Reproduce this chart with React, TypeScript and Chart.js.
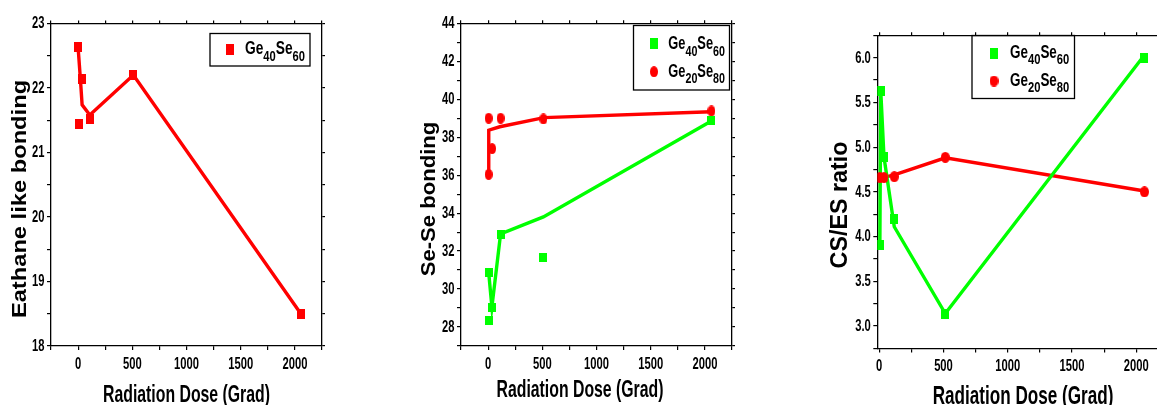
import React, { useEffect, useRef } from 'react';
import { Chart, registerables } from 'chart.js';
Chart.register(...registerables);

const W = 1200;
const H = 405;
const RED = '#ff0000';
const GREEN = '#00ff00';
const FONT = '"Liberation Sans", Arial, sans-serif';

// ---------- Panel 1 : Eathane like bonding ----------
const P1_DOSE = [0, 5, 35, 110, 510, 2055];
const P1_GE40 = [22.63, 21.44, 22.14, 21.52, 22.2, 18.5];
const P1_FIT_DOSE = [0, 12, 22, 37, 108, 510, 2055];
const P1_FIT_GE40 = [22.63, 22.35, 22.12, 21.74, 21.58, 22.2, 18.5];
const P1_X_TICKS = [-250, 0, 250, 500, 750, 1000, 1250, 1500, 1750, 2000, 2250];
const P1_X_LABELS = ['0', '500', '1000', '1500', '2000'];
const P1_Y_TICKS = [18, 18.5, 19, 19.5, 20, 20.5, 21, 21.5, 22, 22.5, 23];
const P1_Y_LABELS = ['18', '19', '20', '21', '22', '23'];

// ---------- Panel 2 : Se-Se bonding ----------
const P2_GE40_DOSE = [5, 5, 35, 115, 510, 2060];
const P2_GE40 = [30.86, 28.33, 29.05, 32.9, 31.67, 38.87];
const P2_GE40_FIT_DOSE = [5, 35, 115, 510, 2060];
const P2_GE40_FIT = [30.9, 29.05, 32.9, 33.8, 38.85];
const P2_GE20_DOSE = [5, 5, 37, 115, 510, 2060];
const P2_GE20 = [39.0, 36.04, 37.4, 39.0, 38.96, 39.38];
const P2_GE20_FIT_DOSE = [5, 6, 108, 515, 2058];
const P2_GE20_FIT = [36.04, 38.37, 38.55, 39.03, 39.34];
const P2_X_TICKS = [-250, 0, 250, 500, 750, 1000, 1250, 1500, 1750, 2000, 2250];
const P2_X_LABELS = ['0', '500', '1000', '1500', '2000'];
const P2_Y_TICKS = [27, 28, 29, 30, 31, 32, 33, 34, 35, 36, 37, 38, 39, 40, 41, 42, 43, 44];
const P2_Y_LABELS = ['28', '30', '32', '34', '36', '38', '40', '42', '44'];

// ---------- Panel 3 : CS/ES ratio ----------
const P3_GE40_DOSE = [5, 12, 37, 117, 514, 2064];
const P3_GE40 = [3.91, 5.63, 4.89, 4.2, 3.14, 6.0];
const P3_GE40_FIT_DOSE = [5, 12, 37, 117, 514, 2064];
const P3_GE40_FIT = [3.91, 5.63, 4.89, 4.11, 3.14, 6.03];
const P3_GE20_DOSE = [5, 37, 117, 514, 2064];
const P3_GE20 = [4.66, 4.66, 4.67, 4.886, 4.5];
const P3_GE20_FIT_DOSE = [5, 117, 514, 2064];
const P3_GE20_FIT = [4.65, 4.69, 4.88, 4.51];
const P3_X_TICKS = [0, 250, 500, 750, 1000, 1250, 1500, 1750, 2000, 2250];
const P3_X_LABELS = ['0', '500', '1000', '1500', '2000'];
const P3_Y_TICKS = [2.75, 3, 3.25, 3.5, 3.75, 4, 4.25, 4.5, 4.75, 5, 5.25, 5.5, 5.75, 6, 6.25];
const P3_Y_LABELS = ['3.0', '3.5', '4.0', '4.5', '5.0', '5.5', '6.0'];

const GE40_PARTS: [string, boolean][] = [['Ge', false], ['40', true], ['Se', false], ['60', true]];
const GE20_PARTS: [string, boolean][] = [['Ge', false], ['20', true], ['Se', false], ['80', true]];

function makeMarker(kind: 'rect' | 'ellipse', color: string, w: number, h: number) {
  const c = document.createElement('canvas');
  c.width = w;
  c.height = h;
  const g = c.getContext('2d')!;
  g.fillStyle = color;
  if (kind === 'rect') g.fillRect(0, 0, w, h);
  else {
    g.beginPath();
    g.ellipse(w / 2, h / 2, w / 2, h / 2, 0, 0, Math.PI * 2);
    g.fill();
  }
  return c;
}

function zip(xs: number[], ys: number[]) {
  return xs.map((x, i) => ({ x, y: ys[i] }));
}

function drawH(ctx: CanvasRenderingContext2D, text: string, x: number, y: number, F: number, sx: number, align: CanvasTextAlign, baseline: CanvasTextBaseline) {
  ctx.save();
  ctx.font = `bold ${F}px ${FONT}`;
  ctx.textAlign = align;
  ctx.textBaseline = baseline;
  ctx.fillStyle = '#000';
  ctx.translate(x, y);
  ctx.scale(sx, 1);
  ctx.fillText(text, 0, 0);
  ctx.restore();
}

function drawHFit(ctx: CanvasRenderingContext2D, text: string, cx: number, baseline: number, F: number, width: number) {
  ctx.save();
  ctx.font = `bold ${F}px ${FONT}`;
  const nat = ctx.measureText(text).width;
  ctx.restore();
  drawH(ctx, text, cx, baseline, F, width / nat, 'center', 'alphabetic');
}

function drawV(ctx: CanvasRenderingContext2D, text: string, x: number, cy: number, F: number, sx: number) {
  ctx.save();
  ctx.font = `bold ${F}px ${FONT}`;
  ctx.textAlign = 'center';
  ctx.textBaseline = 'alphabetic';
  ctx.fillStyle = '#000';
  ctx.translate(x, cy);
  ctx.scale(sx, 1);
  ctx.rotate(-Math.PI / 2);
  ctx.fillText(text, 0, 0);
  ctx.restore();
}

function drawRich(ctx: CanvasRenderingContext2D, parts: [string, boolean][], x: number, baseline: number, F: number, subF: number, drop: number, width: number) {
  ctx.save();
  const widths = parts.map(([t, sub]) => {
    ctx.font = `bold ${sub ? subF : F}px ${FONT}`;
    return ctx.measureText(t).width;
  });
  const total = widths.reduce((a, b) => a + b, 0);
  ctx.translate(x, baseline);
  ctx.scale(width / total, 1);
  ctx.fillStyle = '#000';
  ctx.textBaseline = 'alphabetic';
  ctx.textAlign = 'left';
  let cx = 0;
  parts.forEach(([t, sub], i) => {
    ctx.font = `bold ${sub ? subF : F}px ${FONT}`;
    ctx.fillText(t, cx, sub ? drop : 0);
    cx += widths[i];
  });
  ctx.restore();
}

interface LegendRow { marker: HTMLCanvasElement; mx: number; my: number; parts: [string, boolean][]; tx: number; tb: number; }
interface PanelCfg {
  area: { left: number; right: number; top: number; bottom: number };
  xMin: number; xMax: number; yMin: number; yMax: number;
  xTicks: number[]; yTicks: number[]; xLabels: string[]; yLabels: string[];
  datasets: any[];
  xTitle: { text: string; cx: number; baseline: number; F: number; width: number };
  yTitle: { text: string; x: number; cy: number; F: number; sx: number };
  legend: { box: [number, number, number, number]; rows: LegendRow[]; textWidth: number; F: number; subF: number; drop: number };
}

function Panel({ cfg }: { cfg: () => PanelCfg }) {
  const ref = useRef<HTMLCanvasElement>(null);
  useEffect(() => {
    const c = cfg();
    const a = c.area;
    const axisCommon = (pos: string, axis: string, tl: number, ticks: number[], fit: (s: any) => void, min: number, max: number) => ({
      type: 'linear', axis, position: pos, min, max,
      afterBuildTicks: (s: any) => { s.ticks = ticks.map((v) => ({ value: v })); },
      afterFit: fit,
      ticks: { display: false },
      grid: { drawOnChartArea: false, drawTicks: true, tickLength: tl, color: '#000', lineWidth: 1.2 },
      border: { display: true, color: '#000', width: 1.3 },
    });
    const deco = {
      id: 'deco',
      afterDraw(chart: any) {
        const ctx: CanvasRenderingContext2D = chart.ctx;
        const xs = chart.scales.x;
        const ys = chart.scales.y;
        c.xLabels.forEach((l) => {
          drawH(ctx, l, xs.getPixelForValue(parseFloat(l)), a.bottom + 22.8, 16, 0.7, 'center', 'alphabetic');
        });
        c.yLabels.forEach((l) => {
          drawH(ctx, l, a.left - 6.5, ys.getPixelForValue(parseFloat(l)) + 0.5, 16, 0.7, 'right', 'middle');
        });
        drawHFit(ctx, c.xTitle.text, c.xTitle.cx, c.xTitle.baseline, c.xTitle.F, c.xTitle.width);
        drawV(ctx, c.yTitle.text, c.yTitle.x, c.yTitle.cy, c.yTitle.F, c.yTitle.sx);
        const lg = c.legend;
        ctx.save();
        ctx.strokeStyle = '#000';
        ctx.lineWidth = 1.3;
        ctx.strokeRect(lg.box[0], lg.box[1], lg.box[2], lg.box[3]);
        ctx.restore();
        lg.rows.forEach((r) => {
          ctx.drawImage(r.marker, r.mx - r.marker.width / 2, r.my - r.marker.height / 2);
          drawRich(ctx, r.parts, r.tx, r.tb, lg.F, lg.subF, lg.drop, lg.textWidth);
        });
      },
    };
    const chart = new Chart(ref.current!, {
      type: 'scatter',
      data: { datasets: c.datasets },
      options: {
        animation: false,
        responsive: false,
        maintainAspectRatio: false,
        layout: { padding: 0 },
        plugins: { legend: { display: false }, tooltip: { enabled: false } },
        scales: {
          x: axisCommon('bottom', 'x', 4, c.xTicks, (s) => { s.height = H - a.bottom; }, c.xMin, c.xMax),
          x2: axisCommon('top', 'x', 3, c.xTicks, (s) => { s.height = a.top; }, c.xMin, c.xMax),
          y: axisCommon('left', 'y', 4, c.yTicks, (s) => { s.width = a.left; }, c.yMin, c.yMax),
          y2: axisCommon('right', 'y', 3, c.yTicks, (s) => { s.width = W - a.right; }, c.yMin, c.yMax),
        } as any,
      },
      plugins: [deco],
    } as any);
    return () => chart.destroy();
  }, []);
  return <canvas ref={ref} width={W} height={H} style={{ position: 'absolute', left: 0, top: 0, width: W, height: H }} />;
}

function lineDs(xs: number[], ys: number[], color: string) {
  return { data: zip(xs, ys), showLine: true, borderColor: color, borderWidth: 3.4, pointRadius: 0, fill: false, order: 2, xAxisID: 'x', yAxisID: 'y' };
}
function pointDs(xs: number[], ys: number[], marker: HTMLCanvasElement) {
  return { data: zip(xs, ys), showLine: false, pointStyle: marker, pointRadius: 5, order: 1, xAxisID: 'x', yAxisID: 'y' };
}

const panel1 = (): PanelCfg => {
  const sq = makeMarker('rect', RED, 8, 10);
  return {
    area: { left: 51, right: 322, top: 23.5, bottom: 346 },
    xMin: -250, xMax: 2250, yMin: 18, yMax: 23,
    xTicks: P1_X_TICKS, yTicks: P1_Y_TICKS, xLabels: P1_X_LABELS, yLabels: P1_Y_LABELS,
    datasets: [lineDs(P1_FIT_DOSE, P1_FIT_GE40, RED), pointDs(P1_DOSE, P1_GE40, sq)],
    xTitle: { text: 'Radiation Dose (Grad)', cx: 186.5, baseline: 402, F: 24, width: 167 },
    yTitle: { text: 'Eathane like bonding', x: 26, cy: 199, F: 23.7, sx: 0.85 },
    legend: {
      box: [210, 33.5, 100, 32.5], textWidth: 60, F: 18.5, subF: 15, drop: 7,
      rows: [{ marker: makeMarker('rect', RED, 8, 11), mx: 230, my: 49.3, parts: GE40_PARTS, tx: 245, tb: 53.5 }],
    },
  };
};

const panel2 = (): PanelCfg => {
  const sq = makeMarker('rect', GREEN, 8, 9);
  const ci = makeMarker('ellipse', RED, 8, 11);
  return {
    area: { left: 461, right: 732, top: 23.3, bottom: 346 },
    xMin: -250, xMax: 2250, yMin: 27, yMax: 44,
    xTicks: P2_X_TICKS, yTicks: P2_Y_TICKS, xLabels: P2_X_LABELS, yLabels: P2_Y_LABELS,
    datasets: [
      lineDs(P2_GE40_FIT_DOSE, P2_GE40_FIT, GREEN),
      lineDs(P2_GE20_FIT_DOSE, P2_GE20_FIT, RED),
      pointDs(P2_GE40_DOSE, P2_GE40, sq),
      pointDs(P2_GE20_DOSE, P2_GE20, ci),
    ],
    xTitle: { text: 'Radiation Dose (Grad)', cx: 580, baseline: 397, F: 24, width: 167 },
    yTitle: { text: 'Se-Se bonding', x: 435, cy: 199, F: 22.1, sx: 0.9 },
    legend: {
      box: [633.5, 25.5, 96, 64.5], textWidth: 56.7, F: 18, subF: 15, drop: 6.5,
      rows: [
        { marker: makeMarker('rect', GREEN, 8, 11), mx: 654, my: 43.3, parts: GE40_PARTS, tx: 668.3, tb: 49.3 },
        { marker: makeMarker('ellipse', RED, 8, 11), mx: 654, my: 71.7, parts: GE20_PARTS, tx: 668.3, tb: 76.7 },
      ],
    },
  };
};

const panel3 = (): PanelCfg => {
  const sq = makeMarker('rect', GREEN, 8, 10);
  const ci = makeMarker('ellipse', RED, 9, 11);
  return {
    area: { left: 877.3, right: 1168.4, top: 35.3, bottom: 348.4 },
    xMin: -15, xMax: 2250, yMin: 2.75, yMax: 6.25,
    xTicks: P3_X_TICKS, yTicks: P3_Y_TICKS, xLabels: P3_X_LABELS, yLabels: P3_Y_LABELS,
    datasets: [
      lineDs(P3_GE40_FIT_DOSE, P3_GE40_FIT, GREEN),
      lineDs(P3_GE20_FIT_DOSE, P3_GE20_FIT, RED),
      pointDs(P3_GE40_DOSE, P3_GE40, sq),
      pointDs(P3_GE20_DOSE, P3_GE20, ci),
    ],
    xTitle: { text: 'Radiation Dose (Grad)', cx: 1023, baseline: 404, F: 25, width: 180.7 },
    yTitle: { text: 'CS/ES ratio', x: 846.5, cy: 205, F: 23.3, sx: 1.0 },
    legend: {
      box: [972, 35.5, 102.5, 63], textWidth: 59.3, F: 18, subF: 15, drop: 6,
      rows: [
        { marker: makeMarker('rect', GREEN, 8, 11), mx: 994, my: 53.3, parts: GE40_PARTS, tx: 1010, tb: 58.3 },
        { marker: makeMarker('ellipse', RED, 9, 11), mx: 994, my: 81, parts: GE20_PARTS, tx: 1010, tb: 86 },
      ],
    },
  };
};

export default function App() {
  return (
    <div style={{ position: 'absolute', left: 0, top: 0, width: 1157, height: 405, overflow: 'hidden', background: '#fff' }}>
      <Panel cfg={panel1} />
      <Panel cfg={panel2} />
      <Panel cfg={panel3} />
    </div>
  );
}
